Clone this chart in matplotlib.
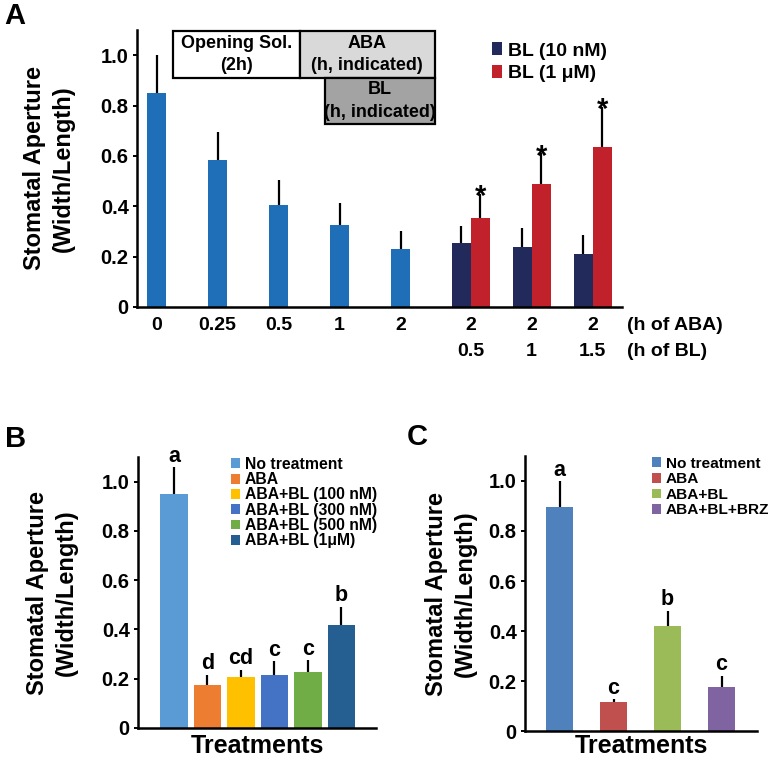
import matplotlib
matplotlib.use("Agg")
import matplotlib.pyplot as plt
from matplotlib.patches import Rectangle
import numpy as np

plt.rcParams["font.family"] = ["Liberation Sans", "DejaVu Sans"]
plt.rcParams["font.weight"] = "bold"
plt.rcParams["axes.labelweight"] = "bold"

# ---- panel A data ----
aba_labels = ["0", "0.25", "0.5", "1", "2"]
aba_means = [0.85, 0.584, 0.405, 0.325, 0.232]
aba_err = [0.15, 0.112, 0.10, 0.089, 0.071]

group_labels = ["2\n0.5", "2\n1", "2\n1.5"]
bl10_means = [0.255, 0.238, 0.212]
bl10_err = [0.066, 0.074, 0.072]
bl1u_means = [0.352, 0.49, 0.636]
bl1u_err = [0.097, 0.12, 0.16]

# ---- panel B data ----
b_names = ["No treatment", "ABA", "ABA+BL (100 nM)", "ABA+BL (300 nM)",
           "ABA+BL (500 nM)", "ABA+BL (1μM)"]
b_means = [0.949, 0.175, 0.205, 0.217, 0.228, 0.417]
b_err = [0.109, 0.042, 0.031, 0.054, 0.046, 0.076]
b_letters = ["a", "d", "cd", "c", "c", "b"]
b_colors = ["#5b9bd5", "#ed7d31", "#ffc000", "#4472c4", "#70ad47", "#255e91"]

# ---- panel C data ----
c_names = ["No treatment", "ABA", "ABA+BL", "ABA+BL+BRZ"]
c_means = [0.894, 0.116, 0.42, 0.177]
c_err = [0.105, 0.011, 0.06, 0.044]
c_letters = ["a", "c", "b", "c"]
c_colors = ["#4f81bd", "#c0504d", "#9bbb59", "#8064a2"]

BLUE = "#1f6fb8"
NAVY = "#222a5c"
RED = "#c1212a"


def style_axes(ax):
    for s in ["top", "right"]:
        ax.spines[s].set_visible(False)
    for s in ["left", "bottom"]:
        ax.spines[s].set_linewidth(1.8)
    ax.set_ylim(0, 1.1)
    ax.set_yticks([0, 0.2, 0.4, 0.6, 0.8, 1.0])
    ax.set_yticklabels(["0", "0.2", "0.4", "0.6", "0.8", "1.0"])
    ax.tick_params(axis="y", length=3, width=1.4, pad=3, labelsize=14.5)
    ax.tick_params(axis="x", length=0, labelsize=14)


def up_err(ax, x, means, errs):
    ax.errorbar(x, means, yerr=[np.zeros(len(errs)), errs], fmt="none",
                ecolor="black", elinewidth=1.6, capsize=0)


fig = plt.figure(figsize=(7.71, 7.61), dpi=100)

# ================= Panel A =================
axA = fig.add_axes([0.1777, 0.5966, 0.629, 0.364])
style_axes(axA)
xs = np.arange(len(aba_means))
gx = np.array([5.15, 6.15, 7.15])
w = 0.31
axA.bar(xs, aba_means, width=w, color=BLUE, zorder=2)
up_err(axA, xs, aba_means, aba_err)
axA.bar(gx - w / 2, bl10_means, width=w, color=NAVY, label="BL (10 nM)", zorder=2)
axA.bar(gx + w / 2, bl1u_means, width=w, color=RED, label="BL (1 μM)", zorder=2)
up_err(axA, gx - w / 2, bl10_means, bl10_err)
up_err(axA, gx + w / 2, bl1u_means, bl1u_err)
for x, m, e in zip(gx + w / 2, bl1u_means, bl1u_err):
    axA.annotate("*", (x, m + e), xytext=(0, -8), textcoords="offset points",
                 ha="center", va="baseline", fontsize=21)
axA.set_xlim(-0.32, 7.63)
axA.set_xticks(list(xs) + list(gx))
axA.set_xticklabels(aba_labels + group_labels)
axA.tick_params(axis="x", pad=7)
for lab in axA.get_xticklabels():
    lab.set_linespacing(1.75)
axA.text(1.01, -0.035, "(h of ABA)\n(h of BL)", transform=axA.transAxes,
         ha="left", va="top", fontsize=14, linespacing=1.75)
axA.set_ylabel("Stomatal Aperture\n(Width/Length)", fontsize=17, linespacing=1.35)
axA.yaxis.set_label_coords(-0.128, 0.5)
axA.legend(loc="upper left", bbox_to_anchor=(0.711, 0.99), frameon=False,
           fontsize=14, handlelength=0.55, handleheight=0.6,
           handletextpad=0.3, labelspacing=0.3, borderpad=0)

# treatment schedule boxes
boxes = [
    (0.074, 0.827, 0.262, 0.169, "white", "Opening Sol.\n(2h)"),
    (0.336, 0.827, 0.278, 0.169, "#d9d9d9", "ABA\n(h, indicated)"),
    (0.388, 0.661, 0.226, 0.166, "#a3a3a3", "BL\n(h, indicated)"),
]
for bx, by, bw, bh, fc, txt in boxes:
    axA.add_patch(Rectangle((bx, by), bw, bh, transform=axA.transAxes,
                            facecolor=fc, edgecolor="black", lw=1.6,
                            clip_on=False, zorder=3))
    axA.text(bx + bw / 2, by + bh / 2, txt, transform=axA.transAxes,
             ha="center", va="center", fontsize=13, zorder=4,
             linespacing=1.45)

# ================= Panel B =================
axB = fig.add_axes([0.179, 0.0434, 0.3087, 0.356])
style_axes(axB)
bx_ = np.arange(len(b_means))
axB.bar(bx_, b_means, width=0.82, color=b_colors, label=b_names, zorder=2)
up_err(axB, bx_, b_means, b_err)
for x, m, e, l in zip(bx_, b_means, b_err, b_letters):
    axB.annotate(l, (x, m + e), xytext=(0, 4), textcoords="offset points",
                 ha="center", va="baseline", fontsize=15.5)
axB.set_xlim(-1.07, 6.03)
axB.set_xticks([])
axB.set_xlabel("Treatments", fontsize=18, labelpad=4)
axB.set_ylabel("Stomatal Aperture\n(Width/Length)", fontsize=17, linespacing=1.35)
axB.yaxis.set_label_coords(-0.252, 0.5)
axB.legend(loc="upper left", bbox_to_anchor=(0.357, 1.03), frameon=False,
           fontsize=11.3, handlelength=0.6, handleheight=0.6,
           handletextpad=0.3, labelspacing=0.02, borderpad=0)

# ================= Panel C =================
axC = fig.add_axes([0.681, 0.0394, 0.301, 0.3614])
style_axes(axC)
cx = np.arange(len(c_means))
axC.bar(cx, c_means, width=0.5, color=c_colors, label=c_names, zorder=2)
up_err(axC, cx, c_means, c_err)
for x, m, e, l in zip(cx, c_means, c_err, c_letters):
    axC.annotate(l, (x, m + e), xytext=(0, 4), textcoords="offset points",
                 ha="center", va="baseline", fontsize=15.5)
axC.set_xlim(-0.64, 3.66)
axC.set_xticks([])
axC.set_xlabel("Treatments", fontsize=18, labelpad=2)
axC.set_ylabel("Stomatal Aperture\n(Width/Length)", fontsize=17, linespacing=1.35)
axC.yaxis.set_label_coords(-0.207, 0.5)
axC.legend(loc="upper left", bbox_to_anchor=(0.513, 1.025), frameon=False,
           fontsize=11.1, handlelength=0.6, handleheight=0.6,
           handletextpad=0.3, labelspacing=0.1, borderpad=0)

# panel letters
fig.text(0.006, 0.997, "A", fontsize=21, ha="left", va="top")
fig.text(0.006, 0.442, "B", fontsize=21, ha="left", va="top")
fig.text(0.527, 0.444, "C", fontsize=21, ha="left", va="top")

fig.savefig("out.png", dpi=100)
